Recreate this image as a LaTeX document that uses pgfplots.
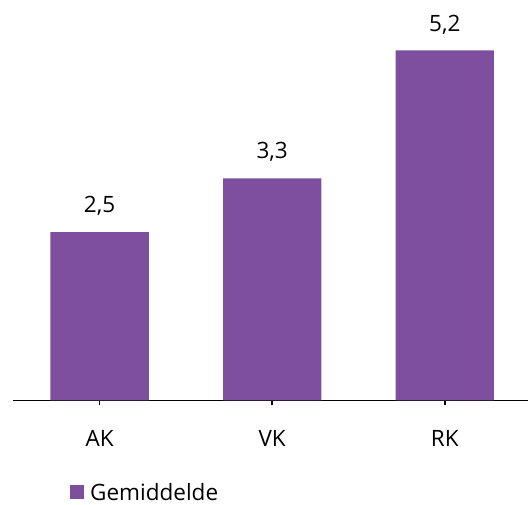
\documentclass[border=0pt]{standalone}
\usepackage{fontspec}
\setmainfont{Open Sans}
\usepackage{pgfplots}
\pgfplotsset{compat=1.18}
\definecolor{barpurple}{HTML}{7E4F9E}

\begin{document}
\begin{tikzpicture}
\begin{axis}[
    at={(0pt,0pt)}, anchor=south west,
    scale only axis,
    width=517.8pt, height=400.5pt,
    xmin=-0.5, xmax=2.5,
    ymin=0, ymax=5.95,
    axis y line=none,
    axis x line*=bottom,
    axis line style={black, line width=1.5pt},
    ybar, bar width=98.3pt, bar shift=0pt,
    xtick=data,
    xticklabels={AK, VK, RK},
    tick align=outside,
    major tick length=5pt,
    tick style={black, line width=1.5pt},
    xticklabel style={anchor=base, yshift=-41pt, font=\fontsize{22.5}{27}\selectfont},
    nodes near coords,
    nodes near coords style={anchor=base, yshift=19.4pt, font=\fontsize{22.5}{27}\selectfont,
        /pgf/number format/.cd, fixed, fixed zerofill, precision=1, use comma, assume math mode=true},
    legend style={at={(axis description cs:0.1095,-0.2584)}, anchor=south west,
        draw=none, inner sep=0pt, font=\fontsize{22.5}{27}\selectfont,
        /tikz/every odd column/.append style={column sep=4pt}},
]
\addplot[draw=none, fill=barpurple,
    legend image code/.code={\fill[barpurple] (0pt,-7pt) rectangle (14pt,7pt);}]
    coordinates {(0,2.5) (1,3.3) (2,5.2)};
\legend{Gemiddelde}
\end{axis}
\pgfresetboundingbox
\useasboundingbox (-13.3pt,-104.5pt) rectangle (514.7pt,400.5pt);
\end{tikzpicture}
\end{document}
